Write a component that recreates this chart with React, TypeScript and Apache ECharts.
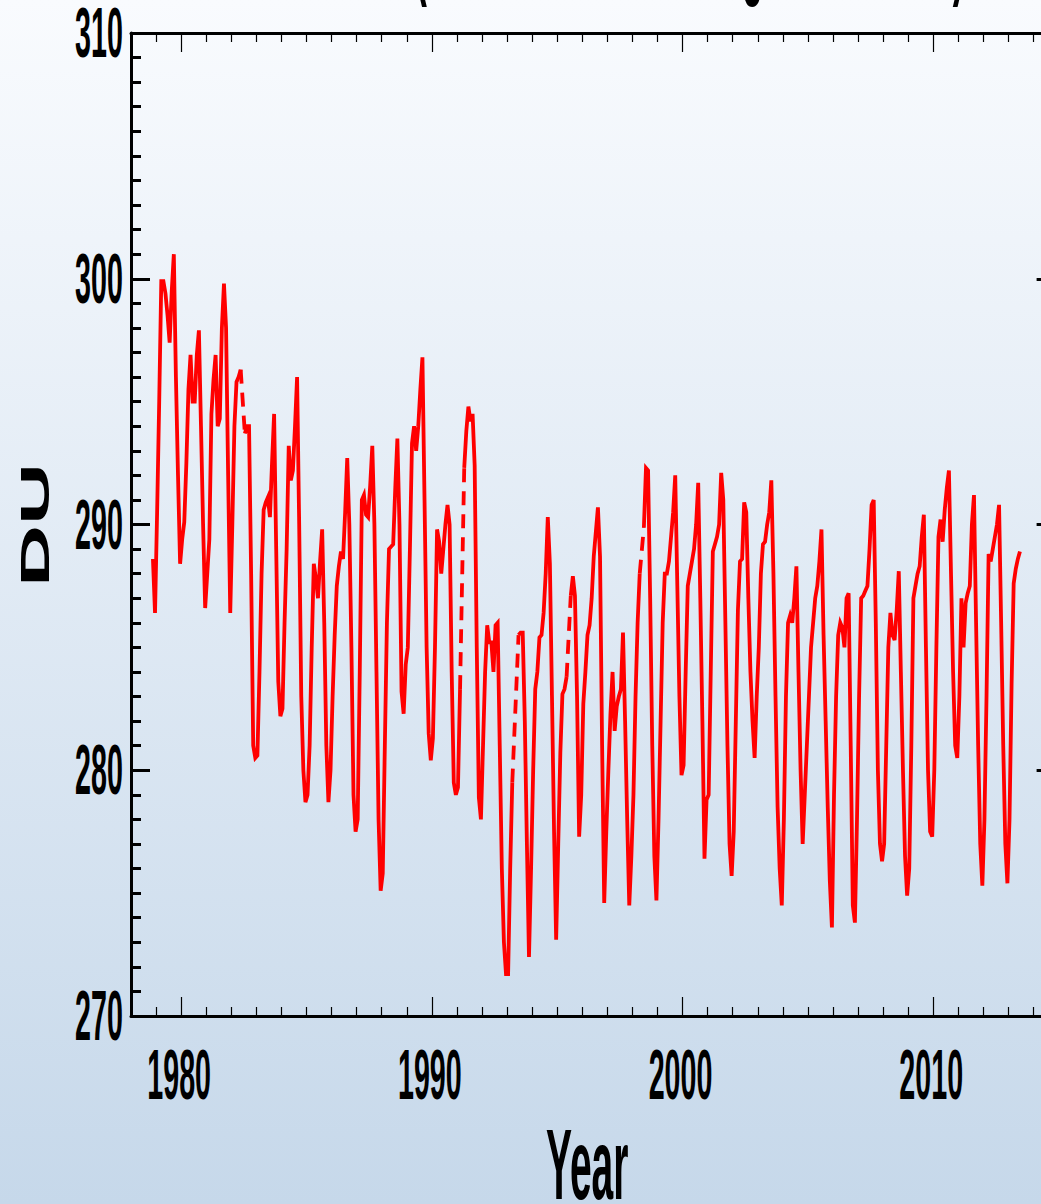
import React, { useEffect, useRef } from "react";
import * as echarts from "echarts";

// Monthly mean total column ozone (DU), January..December; null = month without data.
const FIRST_YEAR = 1978;
const du1978 = [null, null, null, null, null, null, null, null, null, null, 288.6, 286.4];
const du1979 = [290.5, 295.0, 299.9, 299.9, 299.4, 298.5, 297.4, 299.5, 301.0, 296.0, 292.0, 288.4];
const du1980 = [289.4, 290.1, 292.5, 295.5, 296.9, 295.0, 295.0, 296.9, 297.9, 294.0, 290.0, 286.6];
const du1981 = [288.0, 289.4, 294.5, 295.9, 296.9, 294.0, 294.3, 298.0, 299.8, 298.0, 292.0, 286.4];
const du1982 = [290.0, 294.0, 295.8, 296.0, 296.3, null, 293.7, 294.0, 294.0, 288.0, 281.0, 280.5];
const du1983 = [280.6, 284.0, 288.0, 290.6, 290.9, 291.1, 290.3, 292.5, 294.5, 289.0, 283.6, 282.2];
const du1984 = [282.5, 286.0, 289.0, 293.2, 291.8, 292.2, 294.0, 296.0, 290.0, 283.0, 280.0, 278.7];
const du1985 = [279.0, 281.0, 285.0, 288.4, 287.8, 287.0, 288.5, 289.8, 286.0, 281.0, 278.7, 280.0];
const du1986 = [283.0, 285.5, 287.5, 288.3, 288.9, 288.6, 290.5, 292.7, 290.0, 285.0, 279.0, 277.5];
const du1987 = [278.0, 284.0, 291.0, 291.2, 290.4, 290.3, 291.6, 293.2, 290.0, 284.0, 278.0, 275.1];
const du1988 = [275.8, 281.0, 286.0, 289.0, 289.1, 289.2, 291.5, 293.5, 290.0, 283.2, 282.3, 284.3];
const du1989 = [285.0, 289.0, 293.3, 294.0, 293.0, 294.0, 295.5, 296.8, 291.0, 285.0, 281.5, 280.4];
const du1990 = [281.3, 285.0, 289.8, 289.3, 288.0, 289.0, 290.0, 290.8, 290.0, 284.0, 279.5, 279.0];
const du1991 = [279.3, 283.3, null, 292.3, 293.8, 294.8, 294.2, 294.5, 292.4, 285.0, 278.9, 278.0];
const du1992 = [281.0, 284.0, 285.9, 285.2, 285.2, 284.0, 285.9, 286.0, 281.0, 276.0, 273.0, 271.7];
const du1993 = [271.7, 276.0, 279.5, null, null, 285.5, 285.6, 285.6, 282.0, 277.0, 272.4, 276.0];
const du1994 = [280.0, 283.3, 284.0, 285.4, 285.5, 286.4, 288.0, 290.3, 288.4, 283.0, 277.5, 273.1];
const du1995 = [277.0, 280.7, 283.1, 283.3, 283.8, null, 287.1, 287.9, 287.1, 283.0, 277.3, 279.0];
const du1996 = [282.7, 284.0, 285.5, 285.9, 287.0, 288.7, 289.7, 290.7, 288.7, 281.0, 274.6, 277.5];
const du1997 = [280.0, 282.3, 284.0, 281.6, 282.6, 283.0, 283.3, 285.6, 282.0, 278.0, 274.5, 276.5];
const du1998 = [279.0, 283.0, 286.0, 288.0, null, 289.9, 292.3, 292.2, 287.0, 281.0, 276.5, 274.7];
const du1999 = [278.0, 282.0, 286.0, 288.0, 288.0, 288.5, 289.5, 290.5, 292.0, 287.5, 283.0, 279.8];
const du2000 = [280.2, 284.0, 287.5, 288.0, 288.5, 289.0, 290.0, 291.7, 287.0, 282.0, 276.4, 278.8];
const du2001 = [279.0, 284.0, 288.9, 289.2, 289.5, 290.0, 292.1, 291.0, 286.0, 281.0, 277.0, 275.7];
const du2002 = [277.5, 282.0, 286.5, 288.5, 288.6, 290.9, 290.5, 287.0, 284.0, 282.0, 280.5, 283.0];
const du2003 = [285.0, 288.0, 289.2, 289.3, 290.0, 290.5, 291.8, 288.0, 283.0, 278.5, 276.0, 274.5];
const du2004 = [278.0, 283.0, 286.0, 286.3, 286.0, 287.0, 288.3, 284.0, 280.0, 277.0, 279.0, 281.0];
const du2005 = [283.0, 285.0, 286.0, 287.0, 287.5, 288.5, 289.8, 285.5, 282.0, 278.5, 275.5, 273.6];
const du2006 = [279.0, 283.0, 285.5, 286.0, 285.8, 285.0, 287.0, 287.2, 281.0, 274.5, 273.8, 278.0];
const du2007 = [283.0, 287.0, 287.1, 287.3, 287.5, 289.0, 290.8, 291.0, 286.0, 280.0, 277.0, 276.3];
const du2008 = [277.0, 281.0, 285.0, 286.4, 285.5, 285.3, 286.5, 288.1, 284.0, 280.0, 276.5, 274.9];
const du2009 = [276.0, 281.0, 287.0, 287.5, 288.0, 288.3, 289.5, 290.4, 285.0, 280.0, 277.5, 277.3];
const du2010 = [280.0, 285.0, 289.5, 290.2, 289.3, 290.6, 291.5, 292.2, 288.0, 284.0, 281.0, 280.5];
const du2011 = [283.0, 287.0, 285.0, 286.8, 287.2, 287.5, 290.0, 291.2, 286.0, 281.0, 277.0, 275.3];
const du2012 = [278.0, 283.0, 288.8, 288.5, 289.0, 289.5, 290.0, 290.8, 286.0, 281.0, 277.0, 275.4];
const du2013 = [278.0, 283.5, 287.6, 288.2, 288.6, 288.9];

const yearlySeries = [
  du1978, du1979, du1980, du1981, du1982, du1983, du1984, du1985, du1986, du1987,
  du1988, du1989, du1990, du1991, du1992, du1993, du1994, du1995, du1996, du1997,
  du1998, du1999, du2000, du2001, du2002, du2003, du2004, du2005, du2006, du2007,
  du2008, du2009, du2010, du2011, du2012, du2013,
];

// Axis ranges and tick values
const X_MIN = 1978;
const X_MAX = 2015;
const Y_MIN = 270;
const Y_MAX = 310;
const majorYears = [1980, 1990, 2000, 2010];
const yTickLabels = [270, 280, 290, 300, 310];

const TITLE = "Total Ozone (60S\u201360N Mean Merged Data Set)";
const X_NAME = "Year";
const Y_NAME = "DU";

const FONT = '"Liberation Sans", Arial, Helvetica, sans-serif';
const CHART_W = 1080;
const CHART_H = 1204;
const GRID_LEFT = 131;
const GRID_TOP = 33;
const GRID_BOTTOM = 188;
const GRID_WIDTH = 927.6;

type Pt = [number, number | null];

function buildPoints(): Pt[] {
  const pts: Pt[] = [];
  yearlySeries.forEach((months, i) => {
    months.forEach((v, m) => {
      pts.push([FIRST_YEAR + i + (m + 0.5) / 12, v as number | null]);
    });
  });
  // drop leading months before the record starts
  const first = pts.findIndex((p) => p[1] !== null);
  return pts.slice(first);
}

// Dashed connectors bridging missing months
function buildGaps(pts: Pt[]): Pt[][] {
  const gaps: Pt[][] = [];
  for (let i = 1; i < pts.length; i++) {
    if (pts[i][1] === null && pts[i - 1][1] !== null) {
      let j = i;
      while (j < pts.length && pts[j][1] === null) j++;
      if (j < pts.length) gaps.push([pts[i - 1], pts[j]]);
      i = j;
    }
  }
  return gaps;
}

const minorYears: number[] = [];
for (let y = X_MIN + 1; y < X_MAX; y++) if (!majorYears.includes(y)) minorYears.push(y);

export default function App() {
  const ref = useRef<HTMLDivElement>(null);

  useEffect(() => {
    if (!ref.current) return;
    const chart = echarts.init(ref.current, undefined, { renderer: "svg" });
    const pts = buildPoints();
    const gaps = buildGaps(pts);
    const red = "#ff0000";

    const xBase = {
      type: "value" as const,
      min: X_MIN,
      max: X_MAX,
      axisLabel: { show: false },
      splitLine: { show: false },
    };
    const yBase = {
      type: "value" as const,
      min: Y_MIN,
      max: Y_MAX,
      interval: 10,
      axisLabel: { show: false },
      splitLine: { show: false },
      axisLine: { show: true, lineStyle: { color: "#000", width: 3 } },
      minorTick: { show: true, splitNumber: 10, length: 10, lineStyle: { color: "#000", width: 3 } },
    };

    chart.setOption({
      animation: false,
      backgroundColor: new echarts.graphic.LinearGradient(0, 0, 0, 1, [
        { offset: 0, color: "#f9fbfe" },
        { offset: 1, color: "#c6d8ea" },
      ]),
      grid: { left: GRID_LEFT, top: GRID_TOP, bottom: GRID_BOTTOM, width: GRID_WIDTH },
      xAxis: [
        {
          ...xBase,
          position: "bottom",
          axisLine: { show: true, onZero: false, lineStyle: { color: "#000", width: 3 } },
          axisTick: { show: true, inside: true, length: 19, customValues: majorYears, lineStyle: { color: "#000", width: 1.2 } },
        },
        {
          ...xBase,
          position: "bottom",
          axisLine: { show: false, onZero: false },
          axisTick: { show: true, inside: true, length: 9, customValues: minorYears, lineStyle: { color: "#000", width: 1.2 } },
        },
        {
          ...xBase,
          position: "top",
          axisLine: { show: true, onZero: false, lineStyle: { color: "#000", width: 3 } },
          axisTick: { show: true, inside: true, length: 19, customValues: majorYears, lineStyle: { color: "#000", width: 1.2 } },
        },
        {
          ...xBase,
          position: "top",
          axisLine: { show: false, onZero: false },
          axisTick: { show: true, inside: true, length: 9, customValues: minorYears, lineStyle: { color: "#000", width: 1.2 } },
        },
      ],
      yAxis: [
        {
          ...yBase,
          position: "left",
          axisTick: { show: true, inside: true, length: 19, lineStyle: { color: "#000", width: 3 } },
        },
        {
          ...yBase,
          position: "right",
          axisTick: { show: true, inside: true, length: 22, lineStyle: { color: "#000", width: 3 } },
        },
      ],
      series: [
        {
          type: "line",
          xAxisIndex: 0,
          yAxisIndex: 0,
          data: pts,
          showSymbol: false,
          connectNulls: false,
          lineStyle: { color: red, width: 3.8, join: "miter" },
          z: 3,
        },
        ...gaps.map((g) => ({
          type: "line",
          xAxisIndex: 0,
          yAxisIndex: 0,
          data: g,
          showSymbol: false,
          lineStyle: { color: red, width: 3.8, type: [14, 9] },
          z: 3,
        })),
      ],
    });

    // Condensed bold labels placed at the axis tick positions
    const sx = 0.41;
    const labelSize = 70;
    const texts: any[] = [];
    yTickLabels.forEach((v) => {
      const py = chart.convertToPixel({ yAxisIndex: 0 }, v) as number;
      texts.push({
        type: "text",
        x: GRID_LEFT - 8,
        y: py,
        scaleX: sx,
        style: { text: String(v), fill: "#000", fontFamily: FONT, fontWeight: "bold", fontSize: labelSize, lineHeight: 54, align: "right", verticalAlign: "middle" },
      });
    });
    const xAxisY = chart.convertToPixel({ yAxisIndex: 0 }, Y_MIN) as number;
    majorYears.forEach((yr) => {
      const px = chart.convertToPixel({ xAxisIndex: 0 }, yr) as number;
      texts.push({
        type: "text",
        x: px - 2,
        y: xAxisY + 59,
        scaleX: sx,
        style: { text: String(yr), fill: "#000", fontFamily: FONT, fontWeight: "bold", fontSize: labelSize, lineHeight: 54, align: "center", verticalAlign: "middle" },
      });
    });
    const xMid = chart.convertToPixel({ xAxisIndex: 0 }, 1996.2) as number;
    texts.push({
      type: "text",
      x: xMid,
      y: 1164,
      scaleX: 0.39,
      style: { text: X_NAME, fill: "#000", fontFamily: FONT, fontWeight: "bold", fontSize: 100, lineHeight: 76, align: "center", verticalAlign: "middle" },
    });
    texts.push({
      type: "text",
      x: 35,
      y: 525,
      rotation: Math.PI / 2,
      scaleY: 0.48,
      style: { text: Y_NAME, fill: "#000", fontFamily: FONT, fontWeight: "bold", fontSize: 86, align: "center", verticalAlign: "middle" },
    });
    texts.push({
      type: "text",
      x: 209,
      y: -41,
      scaleX: 0.4,
      style: { text: TITLE, fill: "#000", fontFamily: FONT, fontWeight: "bold", fontSize: 87, align: "left", verticalAlign: "middle" },
    });
    chart.setOption({ graphic: texts });

    return () => chart.dispose();
  }, []);

  return (
    <div
      style={{
        position: "fixed",
        left: 0,
        top: 0,
        width: 1041,
        height: CHART_H,
        overflow: "hidden",
        background: "#dfe8f2",
      }}
    >
      <div ref={ref} style={{ width: CHART_W, height: CHART_H }} />
    </div>
  );
}
